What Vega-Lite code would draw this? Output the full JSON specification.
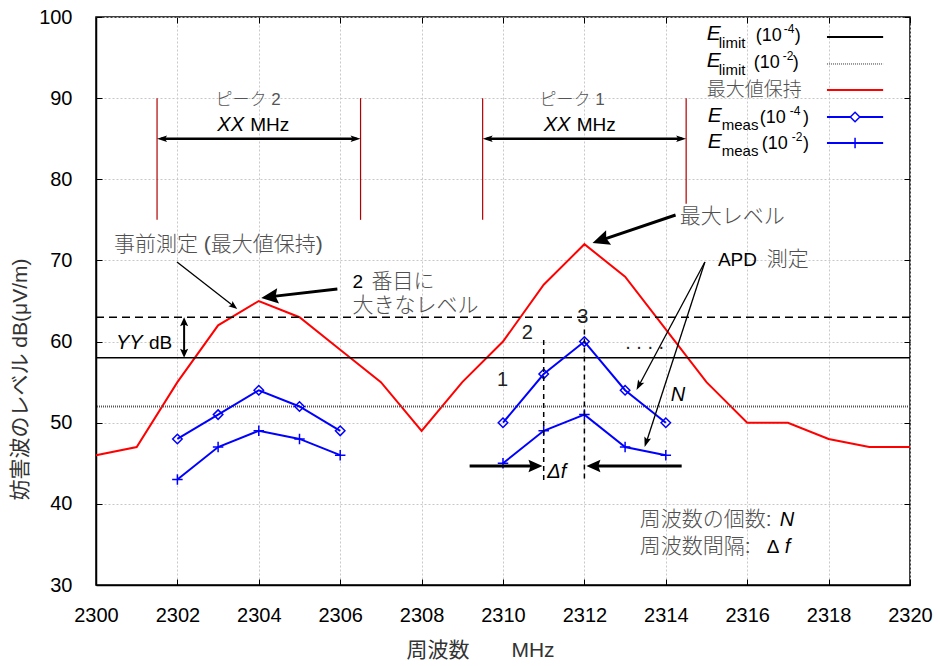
{
  "$schema": "https://vega.github.io/schema/vega-lite/v6.json",
  "width": 814,
  "height": 568,
  "autosize": "none",
  "padding": {"left": 96, "top": 17, "right": 30, "bottom": 81},
  "config": {
    "view": {"stroke": "black", "strokeWidth": 1.5},
    "font": "Liberation Sans, Noto Sans CJK JP, sans-serif"
  },
  "resolve": {"axis": {"x": "independent", "y": "independent"}},
  "datasets": {
    "maxhold": [
      {"x": 2300, "y": 46}, {"x": 2301, "y": 47}, {"x": 2302, "y": 55}, {"x": 2303, "y": 62},
      {"x": 2304, "y": 65}, {"x": 2305, "y": 63}, {"x": 2306, "y": 59}, {"x": 2307, "y": 55},
      {"x": 2308, "y": 49}, {"x": 2309, "y": 55}, {"x": 2310, "y": 60}, {"x": 2311, "y": 67},
      {"x": 2312, "y": 72}, {"x": 2313, "y": 68}, {"x": 2314, "y": 61.5}, {"x": 2315, "y": 55},
      {"x": 2316, "y": 50}, {"x": 2317, "y": 50}, {"x": 2318, "y": 48}, {"x": 2319, "y": 47},
      {"x": 2320, "y": 47}
    ],
    "meas4": [
      {"x": 2302, "y": 48, "peak": "p2"}, {"x": 2303, "y": 51, "peak": "p2"}, {"x": 2304, "y": 54, "peak": "p2"},
      {"x": 2305, "y": 52, "peak": "p2"}, {"x": 2306, "y": 49, "peak": "p2"},
      {"x": 2310, "y": 50, "peak": "p1"}, {"x": 2311, "y": 56, "peak": "p1"}, {"x": 2312, "y": 60, "peak": "p1"},
      {"x": 2313, "y": 54, "peak": "p1"}, {"x": 2314, "y": 50, "peak": "p1"}
    ],
    "meas2": [
      {"x": 2302, "y": 43, "peak": "p2"}, {"x": 2303, "y": 47, "peak": "p2"}, {"x": 2304, "y": 49, "peak": "p2"},
      {"x": 2305, "y": 48, "peak": "p2"}, {"x": 2306, "y": 46, "peak": "p2"},
      {"x": 2310, "y": 45, "peak": "p1"}, {"x": 2311, "y": 49, "peak": "p1"}, {"x": 2312, "y": 51, "peak": "p1"},
      {"x": 2313, "y": 47, "peak": "p1"}, {"x": 2314, "y": 46, "peak": "p1"}
    ],
    "limit4": [{"y": 58}],
    "limit2": [{"y": 52}],
    "threshold": [{"y": 63}],
    "brackets": [
      {"x": 2301.5, "y": 75, "y2": 90}, {"x": 2306.5, "y": 75, "y2": 90},
      {"x": 2309.5, "y": 75, "y2": 90}, {"x": 2314.5, "y": 77, "y2": 90}
    ],
    "peakArrows": [
      {"x": 2301.6, "x2": 2306.4, "y": 85}, {"x": 2309.6, "x2": 2314.4, "y": 85}
    ],
    "yyArrow": [{"x": 2302.165, "y": 58.6, "y2": 62.4}],
    "dashV": [
      {"x": 2311, "y": 60.2, "y2": 42.9}, {"x": 2312, "y": 61.5, "y2": 42.9}
    ],
    "thinArrows": [
      {"x": 2301.99, "y": 69.81, "x2": 2303.4, "y2": 64.3},
      {"x": 2314.96, "y": 69.81, "x2": 2313.32, "y2": 54.4},
      {"x": 2314.96, "y": 69.81, "x2": 2313.51, "y2": 47.4}
    ],
    "thickArrows": [
      {"x": 2305.93, "y": 66.48, "x2": 2304.3, "y2": 65.54},
      {"x": 2314.24, "y": 75.6, "x2": 2312.435, "y2": 72.54},
      {"x": 2309.18, "y": 44.66, "x2": 2310.73, "y2": 44.66},
      {"x": 2314.39, "y": 44.66, "x2": 2312.3, "y2": 44.66}
    ],
    "headPeakR": [{"x": 2306.5, "y": 85}, {"x": 2314.5, "y": 85}],
    "headPeakL": [{"x": 2301.5, "y": 85}, {"x": 2309.5, "y": 85}],
    "headDfR": [{"x": 2310.97, "y": 44.66}],
    "headDfL": [{"x": 2312.05, "y": 44.66}],
    "headUp": [{"x": 2302.165, "y": 63}],
    "headDown": [{"x": 2302.165, "y": 58}],
    "headPre": [{"x": 2303.47, "y": 64.01}],
    "head2nd": [{"x": 2304.06, "y": 65.37}],
    "headMax": [{"x": 2312.2, "y": 72.15}],
    "headApd1": [{"x": 2313.28, "y": 54.03}],
    "headApd2": [{"x": 2313.48, "y": 47.01}],
    "jpText": [
      {"x": 2300.44, "y": 71.9, "t": "事前測定 (最大値保持)"},
      {"x": 2306.77, "y": 67.34, "t": "番目に"},
      {"x": 2306.3, "y": 64.38, "t": "大きなレベル"},
      {"x": 2314.34, "y": 75.35, "t": "最大レベル"},
      {"x": 2316.48, "y": 70.05, "t": "測定"},
      {"x": 2313.36, "y": 38.01, "t": "周波数の個数:"},
      {"x": 2313.36, "y": 34.68, "t": "周波数間隔:"}
    ],
    "latinText": [
      {"x": 2306.3, "y": 67.34, "t": "2"},
      {"x": 2303.79, "y": 86.69, "t": "MHz"},
      {"x": 2311.81, "y": 86.69, "t": "MHz"},
      {"x": 2301.3, "y": 59.82, "t": "dB"},
      {"x": 2315.28, "y": 70.05, "t": "APD"},
      {"x": 2316.48, "y": 34.68, "t": "Δ"}
    ],
    "numText": [
      {"x": 2309.99, "y": 55.26, "t": "1"},
      {"x": 2310.6, "y": 61.06, "t": "2"},
      {"x": 2311.96, "y": 63.03, "t": "3"},
      {"x": 2313.48, "y": 59.8, "t": ". . . ."}
    ],
    "italicText": [
      {"x": 2302.98, "y": 86.69, "t": "XX"},
      {"x": 2311.0, "y": 86.69, "t": "XX"},
      {"x": 2300.49, "y": 59.82, "t": "YY"},
      {"x": 2314.12, "y": 53.41, "t": "N"},
      {"x": 2311.09, "y": 43.93, "t": "Δf"},
      {"x": 2316.8, "y": 38.01, "t": "N"},
      {"x": 2316.92, "y": 34.68, "t": "f"}
    ],
    "peakText": [
      {"x": 2303.74, "y": 89.77, "t": "ピーク 2"},
      {"x": 2311.7, "y": 89.77, "t": "ピーク 1"}
    ],
    "legE": [
      {"x": 2315.006, "y": 97.17, "t": "E"}, {"x": 2315.006, "y": 93.84, "t": "E"},
      {"x": 2315.031, "y": 87.06, "t": "E"}, {"x": 2315.031, "y": 83.86, "t": "E"}
    ],
    "legSub": [
      {"x": 2315.302, "y": 96.18, "t": "limit"}, {"x": 2315.302, "y": 92.85, "t": "limit"},
      {"x": 2315.375, "y": 86.07, "t": "meas"}, {"x": 2315.375, "y": 82.87, "t": "meas"}
    ],
    "legParen": [
      {"x": 2316.212, "y": 97.04, "t": "(10"}, {"x": 2316.163, "y": 93.71, "t": "(10"},
      {"x": 2316.31, "y": 86.94, "t": "(10"}, {"x": 2316.359, "y": 83.73, "t": "(10"},
      {"x": 2317.171, "y": 97.04, "t": ")"}, {"x": 2317.122, "y": 93.71, "t": ")"},
      {"x": 2317.368, "y": 86.94, "t": ")"}, {"x": 2317.368, "y": 83.73, "t": ")"}
    ],
    "legSup": [
      {"x": 2316.9, "y": 98.03, "t": "-4"}, {"x": 2316.876, "y": 94.7, "t": "-2"},
      {"x": 2317.048, "y": 87.92, "t": "-4"}, {"x": 2317.097, "y": 84.72, "t": "-2"}
    ],
    "legJp": [{"x": 2315.006, "y": 91.0, "t": "最大値保持"}],
    "legLimit4": [{"x": 2317.96, "x2": 2319.34, "y": 97.54}],
    "legLimit2": [{"x": 2317.96, "x2": 2319.34, "y": 94.21}],
    "legMax": [{"x": 2317.96, "x2": 2319.34, "y": 91.0}],
    "legMeas": [{"x": 2317.96, "x2": 2319.34, "y": 87.68}, {"x": 2317.96, "x2": 2319.34, "y": 84.47}],
    "legDiamond": [{"x": 2318.65, "y": 87.68}],
    "legPlus": [{"x": 2318.65, "y": 84.47}]
  },
  "layer": [
    {
      "data": {"name": "maxhold"},
      "mark": {"type": "line", "color": "#ff0000", "strokeWidth": 2},
      "encoding": {
        "x": {"field": "x", "type": "quantitative", "scale": {"domain": [2300, 2320], "nice": false, "zero": false},
          "axis": {"values": [2300, 2302, 2304, 2306, 2308, 2310, 2312, 2314, 2316, 2318, 2320], "format": "d",
            "grid": true, "gridColor": "#c8c8c8", "gridDash": [2, 2], "gridWidth": 1,
            "tickSize": -6, "tickColor": "black", "tickWidth": 1, "domainColor": "black", "domainWidth": 1.5,
            "labelFont": "Liberation Sans", "labelFontSize": 20, "labelColor": "black", "labelPadding": 26, "labelDx": -6,
            "labelFlush": false, "labelOverlap": false,
            "title": "周波数　　MHz", "titleFont": "Liberation Sans, Noto Sans CJK JP", "titleFontSize": 21, "titleFontWeight": "normal",
            "titleColor": "#333333", "titleX": 384, "titleY": 65, "titleBaseline": "middle", "titleAlign": "center"}},
        "y": {"field": "y", "type": "quantitative", "scale": {"domain": [30, 100], "nice": false, "zero": false},
          "axis": {"values": [30, 40, 50, 60, 70, 80, 90, 100], "format": "d",
            "grid": true, "gridColor": "#c8c8c8", "gridDash": [2, 2], "gridWidth": 1,
            "tickSize": -6, "tickColor": "black", "tickWidth": 1, "domainColor": "black", "domainWidth": 1.5,
            "labelFont": "Liberation Sans", "labelFontSize": 20, "labelColor": "black", "labelPadding": 30,
            "labelFlush": false, "labelOverlap": false,
            "title": "妨害波のレベル dB(μV/m)", "titleFont": "Liberation Sans, Noto Sans CJK JP", "titleFontSize": 21, "titleFontWeight": "normal",
            "titleColor": "#333333", "titleX": -76, "titleY": 362, "titleBaseline": "middle", "titleAlign": "center", "titleAngle": -90}}
      }
    },
    {
      "data": {"name": "maxhold"},
      "mark": {"type": "point", "opacity": 0},
      "encoding": {
        "x": {"field": "x", "type": "quantitative", "scale": {"domain": [2300, 2320]},
          "axis": {"orient": "top", "values": [2300, 2302, 2304, 2306, 2308, 2310, 2312, 2314, 2316, 2318, 2320],
            "grid": false, "labels": false, "domain": false, "title": null, "tickSize": -6, "tickColor": "black", "tickWidth": 1}},
        "y": {"field": "y", "type": "quantitative", "scale": {"domain": [30, 100]},
          "axis": {"orient": "right", "values": [30, 40, 50, 60, 70, 80, 90, 100],
            "grid": false, "labels": false, "domain": false, "title": null, "tickSize": -6, "tickColor": "black", "tickWidth": 1}}
      }
    },
    {
      "data": {"name": "limit4"},
      "mark": {"type": "rule", "color": "black", "strokeWidth": 1.5},
      "encoding": {"y": {"field": "y", "type": "quantitative", "scale": {"domain": [30, 100]}, "axis": null}}
    },
    {
      "data": {"name": "limit2"},
      "mark": {"type": "rule", "color": "#555555", "strokeWidth": 2, "strokeDash": [1, 1]},
      "encoding": {"y": {"field": "y", "type": "quantitative", "scale": {"domain": [30, 100]}, "axis": null}}
    },
    {
      "data": {"name": "threshold"},
      "mark": {"type": "rule", "color": "black", "strokeWidth": 1.5, "strokeDash": [8, 5]},
      "encoding": {"y": {"field": "y", "type": "quantitative", "scale": {"domain": [30, 100]}, "axis": null}}
    },
    {
      "data": {"name": "meas4"},
      "mark": {"type": "line", "color": "#0000ff", "strokeWidth": 2},
      "encoding": {
        "x": {"field": "x", "type": "quantitative", "scale": {"domain": [2300, 2320]}, "axis": null},
        "y": {"field": "y", "type": "quantitative", "scale": {"domain": [30, 100]}, "axis": null},
        "detail": {"field": "peak"}
      }
    },
    {
      "data": {"name": "meas4"},
      "mark": {"type": "point", "shape": "diamond", "filled": false, "color": "#0000ff", "size": 90, "strokeWidth": 1.5, "opacity": 1},
      "encoding": {
        "x": {"field": "x", "type": "quantitative", "scale": {"domain": [2300, 2320]}, "axis": null},
        "y": {"field": "y", "type": "quantitative", "scale": {"domain": [30, 100]}, "axis": null}
      }
    },
    {
      "data": {"name": "meas2"},
      "mark": {"type": "line", "color": "#0000ff", "strokeWidth": 2},
      "encoding": {
        "x": {"field": "x", "type": "quantitative", "scale": {"domain": [2300, 2320]}, "axis": null},
        "y": {"field": "y", "type": "quantitative", "scale": {"domain": [30, 100]}, "axis": null},
        "detail": {"field": "peak"}
      }
    },
    {
      "data": {"name": "meas2"},
      "mark": {"type": "point", "shape": "M-1,0L1,0M0,-1L0,1", "filled": false, "color": "#0000ff", "size": 110, "strokeWidth": 1.5, "opacity": 1},
      "encoding": {
        "x": {"field": "x", "type": "quantitative", "scale": {"domain": [2300, 2320]}, "axis": null},
        "y": {"field": "y", "type": "quantitative", "scale": {"domain": [30, 100]}, "axis": null}
      }
    },
    {
      "data": {"name": "brackets"},
      "mark": {"type": "rule", "color": "#b00000", "strokeWidth": 1.2},
      "encoding": {
        "x": {"field": "x", "type": "quantitative", "scale": {"domain": [2300, 2320]}, "axis": null},
        "y": {"field": "y", "type": "quantitative", "scale": {"domain": [30, 100]}, "axis": null},
        "y2": {"field": "y2"}
      }
    },
    {
      "data": {"name": "peakArrows"},
      "mark": {"type": "rule", "color": "black", "strokeWidth": 2.5},
      "encoding": {
        "x": {"field": "x", "type": "quantitative", "scale": {"domain": [2300, 2320]}, "axis": null},
        "x2": {"field": "x2"},
        "y": {"field": "y", "type": "quantitative", "scale": {"domain": [30, 100]}, "axis": null}
      }
    },
    {
      "data": {"name": "yyArrow"},
      "mark": {"type": "rule", "color": "black", "strokeWidth": 2},
      "encoding": {
        "x": {"field": "x", "type": "quantitative", "scale": {"domain": [2300, 2320]}, "axis": null},
        "y": {"field": "y", "type": "quantitative", "scale": {"domain": [30, 100]}, "axis": null},
        "y2": {"field": "y2"}
      }
    },
    {
      "data": {"name": "dashV"},
      "mark": {"type": "rule", "color": "black", "strokeWidth": 1.5, "strokeDash": [5, 4]},
      "encoding": {
        "x": {"field": "x", "type": "quantitative", "scale": {"domain": [2300, 2320]}, "axis": null},
        "y": {"field": "y", "type": "quantitative", "scale": {"domain": [30, 100]}, "axis": null},
        "y2": {"field": "y2"}
      }
    },
    {
      "data": {"name": "thinArrows"},
      "mark": {"type": "rule", "color": "black", "strokeWidth": 1.3},
      "encoding": {
        "x": {"field": "x", "type": "quantitative", "scale": {"domain": [2300, 2320]}, "axis": null},
        "x2": {"field": "x2"},
        "y": {"field": "y", "type": "quantitative", "scale": {"domain": [30, 100]}, "axis": null},
        "y2": {"field": "y2"}
      }
    },
    {
      "data": {"name": "thickArrows"},
      "mark": {"type": "rule", "color": "black", "strokeWidth": 3},
      "encoding": {
        "x": {"field": "x", "type": "quantitative", "scale": {"domain": [2300, 2320]}, "axis": null},
        "x2": {"field": "x2"},
        "y": {"field": "y", "type": "quantitative", "scale": {"domain": [30, 100]}, "axis": null},
        "y2": {"field": "y2"}
      }
    },
    {
      "data": {"name": "headPeakR"},
      "mark": {"type": "point", "shape": "M0,0L-1,-0.32L-0.8,0L-1,0.32Z", "filled": true, "color": "black", "size": 400, "angle": 0, "opacity": 1},
      "encoding": {
        "x": {"field": "x", "type": "quantitative", "scale": {"domain": [2300, 2320]}, "axis": null},
        "y": {"field": "y", "type": "quantitative", "scale": {"domain": [30, 100]}, "axis": null}
      }
    },
    {
      "data": {"name": "headPeakL"},
      "mark": {"type": "point", "shape": "M0,0L-1,-0.32L-0.8,0L-1,0.32Z", "filled": true, "color": "black", "size": 400, "angle": 180, "opacity": 1},
      "encoding": {
        "x": {"field": "x", "type": "quantitative", "scale": {"domain": [2300, 2320]}, "axis": null},
        "y": {"field": "y", "type": "quantitative", "scale": {"domain": [30, 100]}, "axis": null}
      }
    },
    {
      "data": {"name": "headDfR"},
      "mark": {"type": "point", "shape": "M0,0L-1,-0.45L-0.85,0L-1,0.45Z", "filled": true, "color": "black", "size": 784, "angle": 0, "opacity": 1},
      "encoding": {
        "x": {"field": "x", "type": "quantitative", "scale": {"domain": [2300, 2320]}, "axis": null},
        "y": {"field": "y", "type": "quantitative", "scale": {"domain": [30, 100]}, "axis": null}
      }
    },
    {
      "data": {"name": "headDfL"},
      "mark": {"type": "point", "shape": "M0,0L-1,-0.45L-0.85,0L-1,0.45Z", "filled": true, "color": "black", "size": 784, "angle": 180, "opacity": 1},
      "encoding": {
        "x": {"field": "x", "type": "quantitative", "scale": {"domain": [2300, 2320]}, "axis": null},
        "y": {"field": "y", "type": "quantitative", "scale": {"domain": [30, 100]}, "axis": null}
      }
    },
    {
      "data": {"name": "headUp"},
      "mark": {"type": "point", "shape": "M0,0L-1,-0.45L-0.8,0L-1,0.45Z", "filled": true, "color": "black", "size": 324, "angle": 270, "opacity": 1},
      "encoding": {
        "x": {"field": "x", "type": "quantitative", "scale": {"domain": [2300, 2320]}, "axis": null},
        "y": {"field": "y", "type": "quantitative", "scale": {"domain": [30, 100]}, "axis": null}
      }
    },
    {
      "data": {"name": "headDown"},
      "mark": {"type": "point", "shape": "M0,0L-1,-0.45L-0.8,0L-1,0.45Z", "filled": true, "color": "black", "size": 324, "angle": 90, "opacity": 1},
      "encoding": {
        "x": {"field": "x", "type": "quantitative", "scale": {"domain": [2300, 2320]}, "axis": null},
        "y": {"field": "y", "type": "quantitative", "scale": {"domain": [30, 100]}, "axis": null}
      }
    },
    {
      "data": {"name": "headPre"},
      "mark": {"type": "point", "shape": "M0,0L-1,-0.38L-0.8,0L-1,0.38Z", "filled": true, "color": "black", "size": 300, "angle": 38, "opacity": 1},
      "encoding": {
        "x": {"field": "x", "type": "quantitative", "scale": {"domain": [2300, 2320]}, "axis": null},
        "y": {"field": "y", "type": "quantitative", "scale": {"domain": [30, 100]}, "axis": null}
      }
    },
    {
      "data": {"name": "head2nd"},
      "mark": {"type": "point", "shape": "M0,0L-1,-0.45L-0.85,0L-1,0.45Z", "filled": true, "color": "black", "size": 1156, "angle": 173, "opacity": 1},
      "encoding": {
        "x": {"field": "x", "type": "quantitative", "scale": {"domain": [2300, 2320]}, "axis": null},
        "y": {"field": "y", "type": "quantitative", "scale": {"domain": [30, 100]}, "axis": null}
      }
    },
    {
      "data": {"name": "headMax"},
      "mark": {"type": "point", "shape": "M0,0L-1,-0.45L-0.85,0L-1,0.45Z", "filled": true, "color": "black", "size": 1156, "angle": 161, "opacity": 1},
      "encoding": {
        "x": {"field": "x", "type": "quantitative", "scale": {"domain": [2300, 2320]}, "axis": null},
        "y": {"field": "y", "type": "quantitative", "scale": {"domain": [30, 100]}, "axis": null}
      }
    },
    {
      "data": {"name": "headApd1"},
      "mark": {"type": "point", "shape": "M0,0L-1,-0.35L-0.8,0L-1,0.35Z", "filled": true, "color": "black", "size": 400, "angle": 118, "opacity": 1},
      "encoding": {
        "x": {"field": "x", "type": "quantitative", "scale": {"domain": [2300, 2320]}, "axis": null},
        "y": {"field": "y", "type": "quantitative", "scale": {"domain": [30, 100]}, "axis": null}
      }
    },
    {
      "data": {"name": "headApd2"},
      "mark": {"type": "point", "shape": "M0,0L-1,-0.35L-0.8,0L-1,0.35Z", "filled": true, "color": "black", "size": 400, "angle": 108, "opacity": 1},
      "encoding": {
        "x": {"field": "x", "type": "quantitative", "scale": {"domain": [2300, 2320]}, "axis": null},
        "y": {"field": "y", "type": "quantitative", "scale": {"domain": [30, 100]}, "axis": null}
      }
    },
    {
      "data": {"name": "jpText"},
      "mark": {"type": "text", "align": "left", "baseline": "middle", "font": "Liberation Sans, Noto Sans CJK JP", "fontSize": 21, "fontWeight": 300, "color": "#505050"},
      "encoding": {
        "x": {"field": "x", "type": "quantitative", "scale": {"domain": [2300, 2320]}, "axis": null},
        "y": {"field": "y", "type": "quantitative", "scale": {"domain": [30, 100]}, "axis": null},
        "text": {"field": "t"}
      }
    },
    {
      "data": {"name": "latinText"},
      "mark": {"type": "text", "align": "left", "baseline": "middle", "font": "Liberation Sans", "fontSize": 19, "color": "black"},
      "encoding": {
        "x": {"field": "x", "type": "quantitative", "scale": {"domain": [2300, 2320]}, "axis": null},
        "y": {"field": "y", "type": "quantitative", "scale": {"domain": [30, 100]}, "axis": null},
        "text": {"field": "t"}
      }
    },
    {
      "data": {"name": "numText"},
      "mark": {"type": "text", "align": "center", "baseline": "middle", "font": "Liberation Sans", "fontSize": 20, "color": "#222222"},
      "encoding": {
        "x": {"field": "x", "type": "quantitative", "scale": {"domain": [2300, 2320]}, "axis": null},
        "y": {"field": "y", "type": "quantitative", "scale": {"domain": [30, 100]}, "axis": null},
        "text": {"field": "t"}
      }
    },
    {
      "data": {"name": "italicText"},
      "mark": {"type": "text", "align": "left", "baseline": "middle", "font": "Liberation Sans", "fontSize": 20, "fontStyle": "italic", "color": "black"},
      "encoding": {
        "x": {"field": "x", "type": "quantitative", "scale": {"domain": [2300, 2320]}, "axis": null},
        "y": {"field": "y", "type": "quantitative", "scale": {"domain": [30, 100]}, "axis": null},
        "text": {"field": "t"}
      }
    },
    {
      "data": {"name": "peakText"},
      "mark": {"type": "text", "align": "center", "baseline": "middle", "font": "Liberation Sans, Noto Sans CJK JP", "fontSize": 17, "fontWeight": 300, "color": "#555555"},
      "encoding": {
        "x": {"field": "x", "type": "quantitative", "scale": {"domain": [2300, 2320]}, "axis": null},
        "y": {"field": "y", "type": "quantitative", "scale": {"domain": [30, 100]}, "axis": null},
        "text": {"field": "t"}
      }
    },
    {
      "data": {"name": "legE"},
      "mark": {"type": "text", "align": "left", "baseline": "alphabetic", "font": "Liberation Sans", "fontSize": 21, "fontStyle": "italic", "color": "black"},
      "encoding": {
        "x": {"field": "x", "type": "quantitative", "scale": {"domain": [2300, 2320]}, "axis": null},
        "y": {"field": "y", "type": "quantitative", "scale": {"domain": [30, 100]}, "axis": null},
        "text": {"field": "t"}
      }
    },
    {
      "data": {"name": "legSub"},
      "mark": {"type": "text", "align": "left", "baseline": "alphabetic", "font": "Liberation Sans", "fontSize": 15, "color": "black"},
      "encoding": {
        "x": {"field": "x", "type": "quantitative", "scale": {"domain": [2300, 2320]}, "axis": null},
        "y": {"field": "y", "type": "quantitative", "scale": {"domain": [30, 100]}, "axis": null},
        "text": {"field": "t"}
      }
    },
    {
      "data": {"name": "legParen"},
      "mark": {"type": "text", "align": "left", "baseline": "alphabetic", "font": "Liberation Sans", "fontSize": 18, "color": "black"},
      "encoding": {
        "x": {"field": "x", "type": "quantitative", "scale": {"domain": [2300, 2320]}, "axis": null},
        "y": {"field": "y", "type": "quantitative", "scale": {"domain": [30, 100]}, "axis": null},
        "text": {"field": "t"}
      }
    },
    {
      "data": {"name": "legSup"},
      "mark": {"type": "text", "align": "left", "baseline": "alphabetic", "font": "Liberation Sans", "fontSize": 12, "color": "black"},
      "encoding": {
        "x": {"field": "x", "type": "quantitative", "scale": {"domain": [2300, 2320]}, "axis": null},
        "y": {"field": "y", "type": "quantitative", "scale": {"domain": [30, 100]}, "axis": null},
        "text": {"field": "t"}
      }
    },
    {
      "data": {"name": "legJp"},
      "mark": {"type": "text", "align": "left", "baseline": "middle", "font": "Liberation Sans, Noto Sans CJK JP", "fontSize": 19, "fontWeight": 300, "color": "#505050"},
      "encoding": {
        "x": {"field": "x", "type": "quantitative", "scale": {"domain": [2300, 2320]}, "axis": null},
        "y": {"field": "y", "type": "quantitative", "scale": {"domain": [30, 100]}, "axis": null},
        "text": {"field": "t"}
      }
    },
    {
      "data": {"name": "legLimit4"},
      "mark": {"type": "rule", "color": "black", "strokeWidth": 2},
      "encoding": {
        "x": {"field": "x", "type": "quantitative", "scale": {"domain": [2300, 2320]}, "axis": null},
        "x2": {"field": "x2"},
        "y": {"field": "y", "type": "quantitative", "scale": {"domain": [30, 100]}, "axis": null}
      }
    },
    {
      "data": {"name": "legLimit2"},
      "mark": {"type": "rule", "color": "#333333", "strokeWidth": 1, "strokeDash": [1, 1]},
      "encoding": {
        "x": {"field": "x", "type": "quantitative", "scale": {"domain": [2300, 2320]}, "axis": null},
        "x2": {"field": "x2"},
        "y": {"field": "y", "type": "quantitative", "scale": {"domain": [30, 100]}, "axis": null}
      }
    },
    {
      "data": {"name": "legMax"},
      "mark": {"type": "rule", "color": "#ff0000", "strokeWidth": 2},
      "encoding": {
        "x": {"field": "x", "type": "quantitative", "scale": {"domain": [2300, 2320]}, "axis": null},
        "x2": {"field": "x2"},
        "y": {"field": "y", "type": "quantitative", "scale": {"domain": [30, 100]}, "axis": null}
      }
    },
    {
      "data": {"name": "legMeas"},
      "mark": {"type": "rule", "color": "#0000ff", "strokeWidth": 2},
      "encoding": {
        "x": {"field": "x", "type": "quantitative", "scale": {"domain": [2300, 2320]}, "axis": null},
        "x2": {"field": "x2"},
        "y": {"field": "y", "type": "quantitative", "scale": {"domain": [30, 100]}, "axis": null}
      }
    },
    {
      "data": {"name": "legDiamond"},
      "mark": {"type": "point", "shape": "diamond", "filled": true, "fill": "white", "stroke": "#0000ff", "size": 90, "strokeWidth": 1.5, "opacity": 1},
      "encoding": {
        "x": {"field": "x", "type": "quantitative", "scale": {"domain": [2300, 2320]}, "axis": null},
        "y": {"field": "y", "type": "quantitative", "scale": {"domain": [30, 100]}, "axis": null}
      }
    },
    {
      "data": {"name": "legPlus"},
      "mark": {"type": "point", "shape": "M-1,0L1,0M0,-1L0,1", "filled": false, "color": "#0000ff", "size": 110, "strokeWidth": 1.5, "opacity": 1},
      "encoding": {
        "x": {"field": "x", "type": "quantitative", "scale": {"domain": [2300, 2320]}, "axis": null},
        "y": {"field": "y", "type": "quantitative", "scale": {"domain": [30, 100]}, "axis": null}
      }
    }
  ]
}
